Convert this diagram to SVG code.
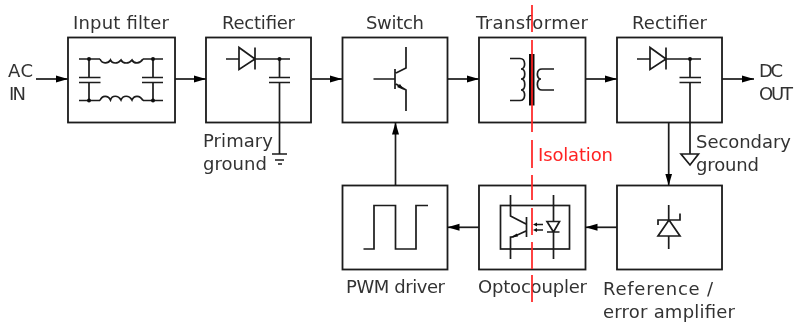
<svg xmlns="http://www.w3.org/2000/svg" width="796" height="324" viewBox="0 0 796 324">
<style>
.b{fill:#fff;stroke:#1a1a1a;stroke-width:1.8}
.l{fill:none;stroke:#1a1a1a;stroke-width:1.7}
.d{fill:#111;stroke:none}
.t{font-family:"DejaVu Sans",sans-serif;font-size:18px;fill:#333}
.r{fill:none;stroke:#f22;stroke-width:1.7}
</style>
<defs>
<filter id="s" x="-5%" y="-5%" width="110%" height="110%"><feGaussianBlur stdDeviation="0.35"/></filter>
<marker id="a" markerUnits="userSpaceOnUse" markerWidth="14" markerHeight="12" refX="12" refY="6" orient="auto"><path d="M0 2.500L12 6L0 9.500Z" fill="#000"/></marker>
</defs>
<rect width="796" height="324" fill="#fff"/>
<g filter="url(#s)">
<g id="input-filter">
<rect class="b" x="68" y="37.500" width="107" height="85"/>
<path class="l" d="M79 59H100M143 59H163M79 100.500H100M143 100.500H163M89 59V77.500M89 82.500V100.500M153 59V77.500M153 82.500V100.500M79 77.500H100.500M79 82.500H100.500M142 77.500H163M142 82.500H163"/>
<path class="l" d="M100 59C102 64 108 64 110.500 60C112 64 118 64 121 60C123 64 129 64 132 60C134 64 140 64 143 59"/>
<path class="l" d="M100 100.500C102 95 108 95 110.500 100C112 95 118 95 121 100C123 95 129 95 132 100C134 95 140 95 143 100.500"/>
<circle class="d" cx="89" cy="59" r="2"/><circle class="d" cx="153" cy="59" r="2"/><circle class="d" cx="89" cy="100.500" r="2"/><circle class="d" cx="153" cy="100.500" r="2"/>
<text class="t" x="73" y="29" textLength="96" lengthAdjust="spacing">Input filter</text>
</g>
<g id="rectifier-1">
<rect class="b" x="206" y="37.500" width="105" height="85"/>
<path class="l" d="M226 59H239M255 59H290M239 47.500V69.500L255 59ZM255 47.500V69.500M269 77.500H290M269 82.500H290M279.500 59V77.500M279.500 82.500V154M272 154H287M275 160H284M278 164H282"/>
<circle class="d" cx="279.500" cy="59" r="2"/>
<text class="t" x="222" y="29" textLength="73" lengthAdjust="spacing">Rectifier</text>
<text class="t" x="203" y="147" textLength="70" lengthAdjust="spacing">Primary</text>
<text class="t" x="203" y="170" textLength="64" lengthAdjust="spacing">ground</text>
</g>
<g id="switch">
<rect class="b" x="342.500" y="37.500" width="105" height="85"/>
<path class="l" d="M373.500 79H395M395 69V89M396 73L406 68V47M396 84L406 90V111"/>
<path class="d" d="M404 90L397 87L400 84Z"/>
<text class="t" x="366" y="29" textLength="58" lengthAdjust="spacing">Switch</text>
</g>
<g id="transformer">
<rect class="b" x="479" y="37.500" width="106.500" height="85"/>
<path class="l" d="M510 58.500H520C526 58.500 526 69 521 69C526 69 526 79 521 79C526 79 526 90 521 90C526 90 526 100.500 520 100.500H510"/>
<path class="l" d="M554 69H542C536 69 536 79 541 79C536 79 536 90 542 90H554"/>
<rect x="529" y="54" width="5.500" height="51.500" fill="#111"/>
<text class="t" x="476" y="29" textLength="112" lengthAdjust="spacing">Transformer</text>
</g>
<g id="rectifier-2">
<rect class="b" x="617" y="37.500" width="105" height="85"/>
<path class="l" d="M637 59H650M666 59H701M650 47.500V69.500L666 59ZM666 47.500V69.500M679.500 77.500H701M679.500 82.500H701M690 59V77.500M690 82.500V154M681 154H698.500L690 165Z"/>
<circle class="d" cx="690" cy="59" r="2"/>
<text class="t" x="632" y="29" textLength="75" lengthAdjust="spacing">Rectifier</text>
<text class="t" x="696" y="147.500" textLength="95" lengthAdjust="spacing">Secondary</text>
<text class="t" x="696" y="171" textLength="63" lengthAdjust="spacing">ground</text>
</g>
<g id="pwm-driver">
<rect class="b" x="342.500" y="185.500" width="105" height="84"/>
<path class="l" d="M363.500 249H374V205.500H395.500V249H416V205.500H428"/>
<text class="t" x="346" y="293" textLength="99" lengthAdjust="spacing">PWM driver</text>
</g>
<g id="optocoupler">
<rect class="b" x="479" y="185.500" width="106.500" height="84"/>
<rect class="l" x="500.500" y="205.500" width="69" height="43.500"/>
<path class="l" d="M510.500 195V216L526 224M526.500 217V237M526 231L513 237H510.500V259M553.500 195V221.500M553.500 232V259M547 221.500H559.500L553.500 232ZM547 232H559.500M536 224.500H543M536 230H543"/>
<path class="d" d="M533 224.500L537 222.500V226.500ZM533 230L537 228V232ZM510 237.500L517 233.500L518 236.500Z"/>
<text class="t" x="478" y="293" textLength="109" lengthAdjust="spacing">Optocoupler</text>
</g>
<g id="reference-amplifier">
<rect class="b" x="617" y="185.500" width="105" height="84"/>
<path class="l" d="M668.700 205V220M668.700 236V249M658 236H680L669 220ZM658 225V220H680V213.500"/>
<text class="t" x="603" y="295" textLength="110" lengthAdjust="spacing">Reference /</text>
<text class="t" x="603" y="318" textLength="132" lengthAdjust="spacing">error amplifier</text>
</g>
<g id="connectors">
<path class="l" marker-end="url(#a)" d="M36 79H68"/>
<path class="l" marker-end="url(#a)" d="M175 79H206"/>
<path class="l" marker-end="url(#a)" d="M311 79H342"/>
<path class="l" marker-end="url(#a)" d="M447.500 79H479"/>
<path class="l" marker-end="url(#a)" d="M585.500 79H617"/>
<path class="l" marker-end="url(#a)" d="M722 79H754"/>
<path class="l" marker-end="url(#a)" d="M395.500 185V122.500"/>
<path class="l" marker-end="url(#a)" d="M668.700 122.500V185.500"/>
<path class="l" marker-end="url(#a)" d="M479 227.300H447.500"/>
<path class="l" marker-end="url(#a)" d="M617 227.300H585.500"/>
</g>
<g id="labels">
<text class="t" x="8" y="77" textLength="25" lengthAdjust="spacing">AC</text>
<text class="t" x="9" y="99.500" textLength="17" lengthAdjust="spacing">IN</text>
<text class="t" x="759" y="77" textLength="24" lengthAdjust="spacing">DC</text>
<text class="t" x="759" y="100" textLength="34" lengthAdjust="spacing">OUT</text>
</g>
<g id="isolation">
<path class="r" d="M532 5V32M532 40V132M532 140V168M532 175V200M532 208V235M532 242V269M532 275V302"/>
<text class="t" style="fill:#f22" x="538" y="161" textLength="75" lengthAdjust="spacing">Isolation</text>
</g>
</g>
</svg>
